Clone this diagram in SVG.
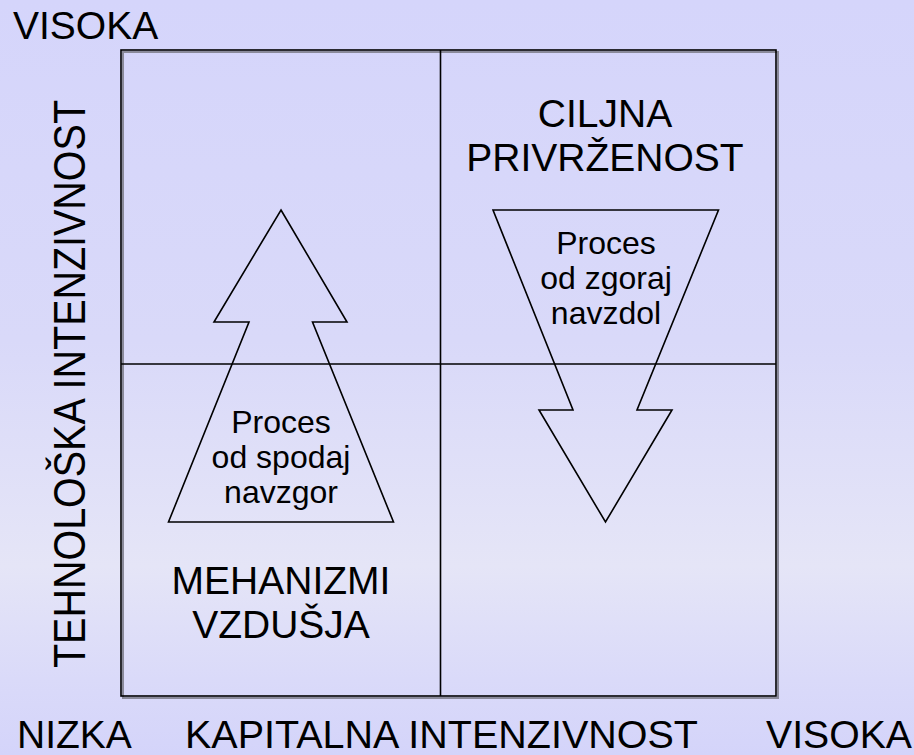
<svg xmlns="http://www.w3.org/2000/svg" width="914" height="755" viewBox="0 0 914 755">
  <defs>
    <linearGradient id="bg" x1="0" y1="0" x2="0" y2="1">
      <stop offset="0" stop-color="#d5d5fb"/>
      <stop offset="0.45" stop-color="#d9d9f9"/>
      <stop offset="0.75" stop-color="#e5e5f7"/>
      <stop offset="0.9" stop-color="#dadaf9"/>
      <stop offset="1" stop-color="#d4d4fa"/>
    </linearGradient>
  </defs>
  <style>
    .big { font-family: "Liberation Sans", Arial, sans-serif; font-size: 39px; fill: #000; }
    .small { font-family: "Liberation Sans", Arial, sans-serif; font-size: 32px; fill: #000; text-anchor: middle; }
    .mid { text-anchor: middle; }
    .line { fill: none; stroke: #000; stroke-width: 1.6; }
    .shadow { fill: none; stroke: #8a8a9a; stroke-width: 2; }
    .arrow { fill: none; stroke: #000; stroke-width: 1.6; stroke-linejoin: miter; }
  </style>
  <rect x="0" y="0" width="914" height="755" fill="url(#bg)"/>

  <g id="grid">
    <rect class="shadow" x="123" y="52" width="655" height="646"/>
    <rect class="line" x="121" y="50" width="655" height="646"/>
    <line class="line" x1="440.5" y1="50" x2="440.5" y2="696"/>
    <line class="line" x1="121" y1="364" x2="776" y2="364"/>
  </g>

  <g id="connectors">
    <g id="arrow-up">
      <polygon class="arrow" points="281,210 347,322 312.5,322 393.5,522 168.5,522 249,322 214,322"/>
      <text class="small" x="281" y="433">Proces</text>
      <text class="small" x="281" y="468">od spodaj</text>
      <text class="small" x="281" y="503">navzgor</text>
    </g>
    <g id="arrow-down">
      <polygon class="arrow" points="493,210 718.5,210 637,410 672,410 605.5,522 539,410 573,410"/>
      <text class="small" x="606" y="254">Proces</text>
      <text class="small" x="606" y="289">od zgoraj</text>
      <text class="small" x="606" y="324">navzdol</text>
    </g>
  </g>

  <g id="quadrant-tr">
    <text class="big mid" x="605" y="127">CILJNA</text>
    <text class="big mid" x="605" y="171">PRIVRŽENOST</text>
  </g>
  <g id="quadrant-bl">
    <text class="big mid" x="281" y="594">MEHANIZMI</text>
    <text class="big mid" x="281" y="638">VZDUŠJA</text>
  </g>

  <g id="axis-labels">
    <text class="big" x="13" y="39">VISOKA</text>
    <text class="big" x="17" y="748">NIZKA</text>
    <text class="big" x="185" y="748" textLength="513" lengthAdjust="spacingAndGlyphs">KAPITALNA INTENZIVNOST</text>
    <text class="big" x="766" y="748" textLength="146" lengthAdjust="spacingAndGlyphs">VISOKA</text>
    <text class="big" transform="translate(85,668) rotate(-90)" style="font-size:44px" textLength="568" lengthAdjust="spacingAndGlyphs">TEHNOLOŠKA INTENZIVNOST</text>
  </g>
</svg>
